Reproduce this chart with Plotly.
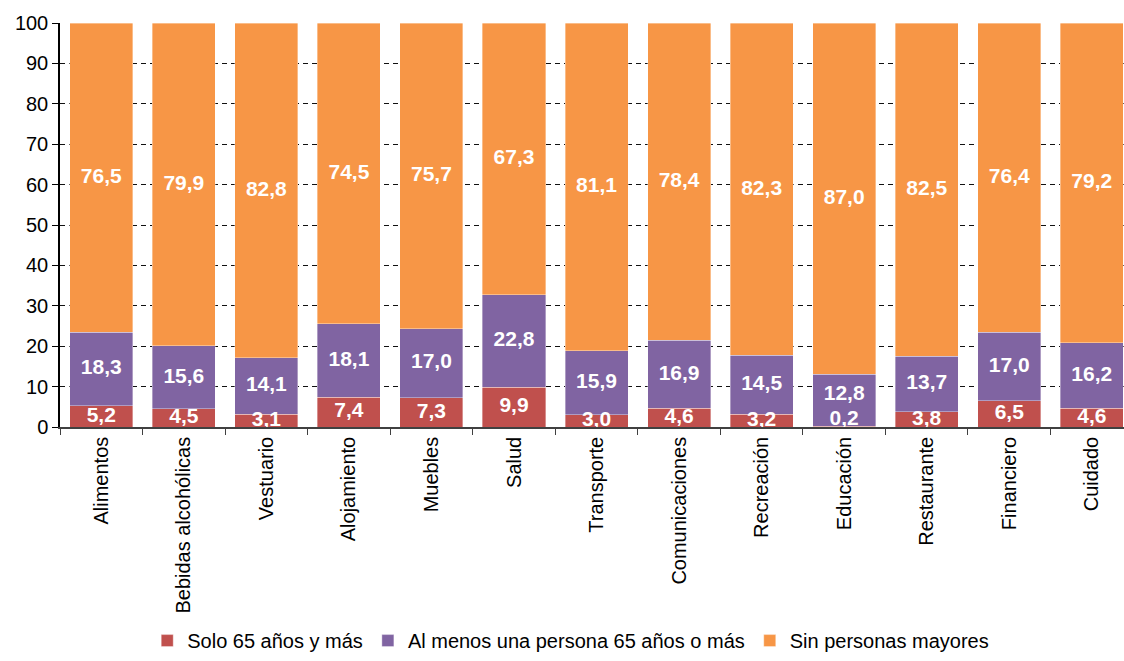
import plotly.graph_objects as go

categories = ["Alimentos", "Bebidas alcohólicas", "Vestuario", "Alojamiento", "Muebles",
              "Salud", "Transporte", "Comunicaciones", "Recreación", "Educación",
              "Restaurante", "Financiero", "Cuidado"]
solo_65 = [5.2, 4.5, 3.1, 7.4, 7.3, 9.9, 3.0, 4.6, 3.2, 0.2, 3.8, 6.5, 4.6]
al_menos_una = [18.3, 15.6, 14.1, 18.1, 17.0, 22.8, 15.9, 16.9, 14.5, 12.8, 13.7, 17.0, 16.2]
sin_mayores = [76.5, 79.9, 82.8, 74.5, 75.7, 67.3, 81.1, 78.4, 82.3, 87.0, 82.5, 76.4, 79.2]

series = [
    ("Solo 65 años y más", solo_65, "#C0504D"),
    ("Al menos una persona 65 años o más", al_menos_una, "#8064A2"),
    ("Sin personas mayores", sin_mayores, "#F79646"),
]

FONT = "Liberation Sans, Arial, sans-serif"

fig = go.Figure()
base = [0.0] * len(categories)
prev_lifted = [None] * len(categories)
label_traces = []
for name, vals, color in series:
    fig.add_trace(go.Bar(
        x=categories, y=vals, name=name,
        marker=dict(color=color, line=dict(color="rgba(255,255,255,0.45)", width=0.8)),
        hoverinfo="skip",
    ))
    # label positions: centre of each segment; very thin segments get lifted clear
    # of the axis, and the label above a lifted one is nudged up to avoid overlap
    ys, lifted = [], []
    for i, (b, v) in enumerate(zip(base, vals)):
        if v < 1:
            y = b + v + 1.7
            lifted.append(y)
        else:
            y = b + v / 2
            if prev_lifted[i] is not None:
                y = max(y, prev_lifted[i] + 6.1)
            lifted.append(None)
        ys.append(y)
    prev_lifted = lifted
    label_traces.append(go.Scatter(
        x=categories, y=ys, mode="text",
        text=[f"{v:.1f}".replace(".", ",") for v in vals],
        textposition="middle center",
        textfont=dict(family=FONT, size=21, color="white", weight="bold"),
        showlegend=False, hoverinfo="skip", cliponaxis=True,
    ))
    base = [b + v for b, v in zip(base, vals)]

for t in label_traces:
    fig.add_trace(t)

fig.update_layout(
    barmode="stack",
    bargap=0.236,
    width=1124, height=661,
    margin=dict(l=60, r=0, t=23, b=234),
    paper_bgcolor="white", plot_bgcolor="white",
    font=dict(family=FONT, size=20, color="black"),
    legend=dict(
        orientation="h", x=0.48, xanchor="center", y=-0.577, yanchor="bottom",
        font=dict(family=FONT, size=20, color="black"),
        traceorder="normal", itemwidth=30,
    ),
    showlegend=True,
)

fig.update_xaxes(
    type="category",
    range=[-0.5, 12.39],
    tickangle=-90,
    tickfont=dict(family=FONT, size=20, color="black"),
    showline=True, linecolor="#404040", linewidth=1.5,
    ticks="outside", tickson="boundaries", ticklen=6, tickcolor="#404040",
    showgrid=False,
)
fig.update_yaxes(
    range=[0, 100], dtick=10,
    tickfont=dict(family=FONT, size=20, color="black"),
    showline=True, linecolor="black", linewidth=1.5,
    ticks="outside", ticklen=6, tickcolor="black",
    showgrid=True, gridcolor="#111111", gridwidth=1.3, griddash="5px,4px",
    zeroline=False,
)

fig.write_html("out.html")
